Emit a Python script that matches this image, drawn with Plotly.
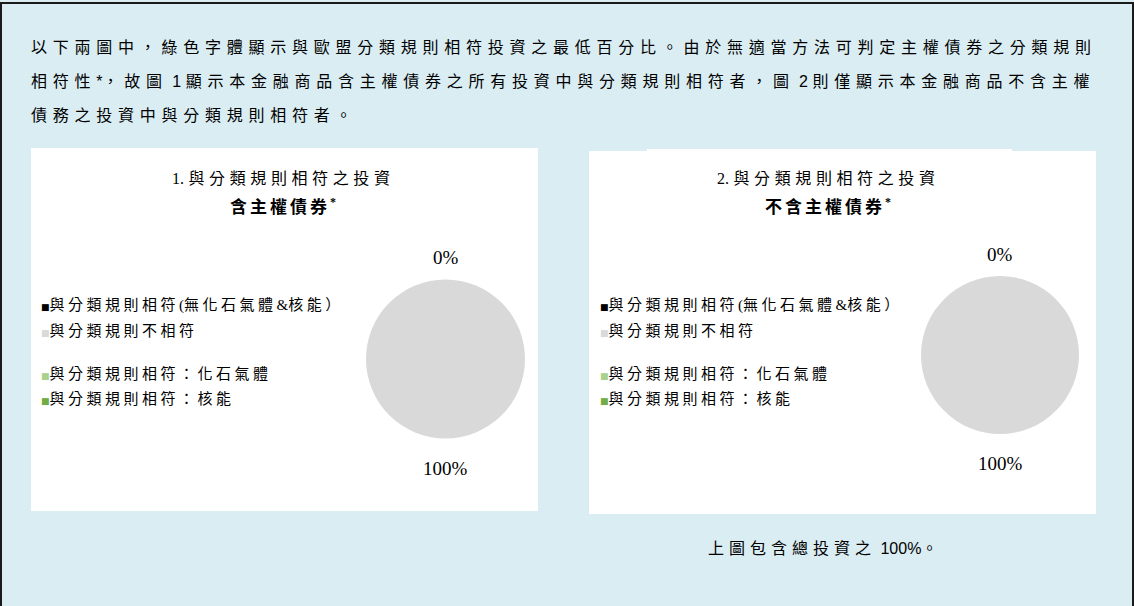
import math
import re
import plotly.graph_objects as go

# data
categories = ["與分類規則相符(無化石氣體&核能）", "與分類規則不相符",
              "與分類規則相符：化石氣體", "與分類規則相符：核能"]
colors = ["#000000", "#D9D9D9", "#A9D18E", "#70AD47"]
pie1_values = [0, 100]   # 含主權債券
pie2_values = [0, 100]   # 不含主權債券

intro_lines = [
    "以下兩圖中，綠色字體顯示與歐盟分類規則相符投資之最低百分比。由於無適當方法可判定主權債券之分類規則",
    "相符性*，故圖 1 顯示本金融商品含主權債券之所有投資中與分類規則相符者，圖 2 則僅顯示本金融商品不含主權",
    "債務之投資中與分類規則相符者。",
]
titles = [("1. 與分類規則相符之投資", "含主權債券"), ("2. 與分類規則相符之投資", "不含主權債券")]
note_text = "上圖包含總投資之"
note_pct = 100

W, H = 1134, 606
BG = "#DAEDF3"
SERIF = "Liberation Serif, Noto Sans CJK TC, serif"
SANS = "Liberation Sans, Noto Sans CJK TC, sans-serif"


def px_x(x):
    return x / W


def px_y(y):
    return 1 - y / H


def spaced(txt, sp):
    # wide letter-spacing on the CJK runs, latin bits stay tight.
    # plotly drops a trailing space before a span, so it is put back
    # as letter-spacing on the run's last char
    out = ""
    for run in re.findall(r"[\x00-\x7f]+|[^\x00-\x7f]+", txt):
        if run.isascii():
            core = run.replace(" ", "\u00a0")
            if run.endswith(" ") and run.strip():
                core = core.rstrip("\u00a0")
                core = core[:-1] + f"<span style='letter-spacing:4.5px'>{core[-1]}</span>"
            out += core
        else:
            out += f"<span style='letter-spacing:{sp}px'>{run}</span>"
    return out


fig = go.Figure()
annotations = []

# two pies, placed over the white panels
pies = [(pie1_values, (445.5, 359, 79.5)), (pie2_values, (1000, 355, 79))]
for vals, (cx, cy, r) in pies:
    fig.add_trace(go.Pie(
        labels=categories[:2],
        values=vals,
        marker=dict(colors=colors[:2], line=dict(width=0)),
        sort=False,
        direction="clockwise",
        rotation=0,
        textinfo="none",
        showlegend=False,
        hoverinfo="label+percent",
        domain=dict(x=[px_x(cx - r), px_x(cx + r)], y=[px_y(cy + r), px_y(cy - r)]),
    ))
    # percentage labels outside the slices, centred on each slice's mid-angle
    total = sum(vals)
    start = 0
    for v in vals:
        mid = (start + v / 2) / total * 2 * math.pi
        start += v
        lx = cx + (r + 25.5) * math.sin(mid)
        ly = cy - (r + 25.5) * math.cos(mid) + 4
        annotations.append(dict(
            text=f"{round(v / total * 100)}%", x=px_x(lx), y=px_y(ly),
            xref="paper", yref="paper", xanchor="center", yanchor="middle",
            showarrow=False, font=dict(family="Liberation Serif", size=19, color="#000")))

shapes = []
# white panels
for x0, y0, x1, y1 in [(31, 148, 538, 511), (589, 151, 1096, 514), (647, 149, 1012, 151)]:
    shapes.append(dict(type="rect", xref="paper", yref="paper",
                       x0=px_x(x0), x1=px_x(x1), y0=px_y(y1), y1=px_y(y0),
                       fillcolor="white", line=dict(width=0), layer="below"))
# outer frame (left, top, right)
for x0, y0, x1, y1 in [(1, 3, 1, 606), (0, 3, 1134, 3), (1133, 3, 1133, 606)]:
    shapes.append(dict(type="line", xref="paper", yref="paper",
                       x0=px_x(x0), x1=px_x(x1), y0=px_y(y0), y1=px_y(y1),
                       line=dict(color="#1a1a1a", width=2)))

# intro paragraph
for i, line in enumerate(intro_lines):
    annotations.append(dict(
        text=spaced(line, 5.75), x=px_x(29), y=px_y(47 + 34 * i),
        xref="paper", yref="paper", xanchor="left", yanchor="middle",
        showarrow=False, font=dict(family=SANS, size=16, color="#000")))

# titles
for (t1, t2), cx in zip(titles, [283, 828]):
    annotations.append(dict(
        text=spaced(t1, 4.6), x=px_x(cx), y=px_y(178), xref="paper", yref="paper",
        xanchor="center", yanchor="middle", showarrow=False,
        font=dict(family=SERIF, size=16, color="#000")))
    annotations.append(dict(
        text=f"<b>{spaced(t2, 3)}<sup>*</sup></b>", x=px_x(cx), y=px_y(206),
        xref="paper", yref="paper", xanchor="center", yanchor="middle", showarrow=False,
        font=dict(family=SERIF, size=17, color="#000")))

# legend rows drawn as text, like the source
for x0 in [39, 598]:
    for cat, col, y in zip(categories, colors, [305, 330, 373, 398]):
        annotations.append(dict(
            text=(f"<span style='font-family:DejaVu Sans;font-size:9px;fill:{col}'>■</span>"
                  + spaced(cat, 3.5)),
            x=px_x(x0), y=px_y(y), xref="paper", yref="paper",
            xanchor="left", yanchor="middle", showarrow=False,
            font=dict(family=SERIF, size=15, color="#000")))

# footnote
annotations.append(dict(
    text=spaced(note_text, 5) + f"\u00a0{note_pct}%。", x=px_x(706), y=px_y(548),
    xref="paper", yref="paper", xanchor="left", yanchor="middle", showarrow=False,
    font=dict(family=SANS, size=16, color="#000")))

fig.update_layout(
    width=W, height=H,
    paper_bgcolor=BG,
    plot_bgcolor=BG,
    margin=dict(t=0, l=0, r=0, b=0),
    shapes=shapes,
    annotations=annotations,
)

# no page margin, so the figure sits at the window's corner
fig.write_html("out.html", config={"displayModeBar": False},
               post_script="document.body.style.margin='0';")
